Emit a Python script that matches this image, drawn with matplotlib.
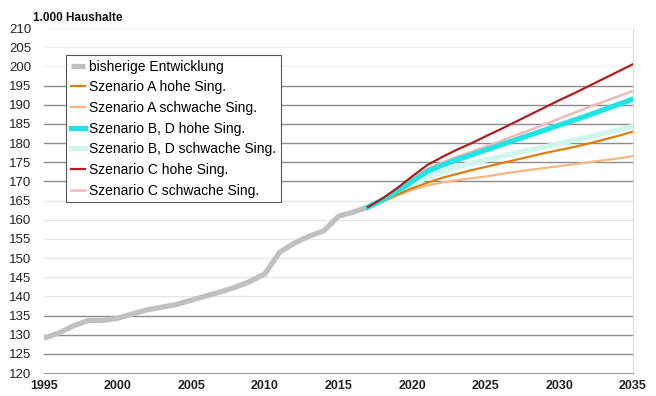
import matplotlib
matplotlib.use("Agg")
import matplotlib.pyplot as plt

plt.rcParams['font.family'] = ['Liberation Sans', 'DejaVu Sans']

# Bisherige Entwicklung (1.000 Haushalte)
hist_years = list(range(1995, 2018))
hist_values = [129.1, 130.4, 132.3, 133.7, 133.7, 134.3, 135.4, 136.5, 137.2, 137.9,
               139.0, 140.1, 141.2, 142.4, 143.9, 145.9, 151.5, 153.9, 155.7, 157.1,
               160.9, 162.0, 163.3]

# Vorausberechnung 2017-2035
proj_years = list(range(2017, 2036))
a_hohe = [163.3, 164.9, 166.6, 168.2, 169.6, 170.9, 171.9, 172.9, 173.8, 174.7,
          175.6, 176.5, 177.4, 178.2, 179.0, 179.9, 180.9, 181.9, 183.0]
a_schwach = [163.3, 164.7, 166.3, 167.8, 168.9, 169.7, 170.3, 170.8, 171.3, 171.9,
             172.5, 173.0, 173.5, 174.0, 174.5, 175.0, 175.5, 176.0, 176.6]
bd_hohe = [163.3, 165.2, 167.5, 170.0, 172.6, 174.2, 175.6, 176.9, 178.2, 179.5,
           180.8, 182.1, 183.4, 184.7, 186.0, 187.3, 188.7, 190.1, 191.5]
bd_schwach = [163.3, 165.1, 167.1, 169.2, 171.1, 172.5, 173.7, 174.7, 175.6, 176.5,
              177.4, 178.2, 179.0, 179.9, 180.8, 181.6, 182.5, 183.4, 184.4]
c_hohe = [163.3, 165.6, 168.3, 171.3, 174.2, 176.3, 178.2, 179.9, 181.8, 183.6,
          185.5, 187.4, 189.3, 191.2, 193.0, 194.9, 196.8, 198.7, 200.6]
c_schwach = [163.3, 165.4, 167.9, 170.6, 173.2, 174.9, 176.4, 177.7, 179.1, 180.5,
             182.0, 183.4, 184.9, 186.4, 187.9, 189.4, 190.8, 192.2, 193.6]

y_ticks = list(range(120, 215, 5))
x_ticks = list(range(1995, 2040, 5))

fig = plt.figure(figsize=(6.56, 3.96), dpi=100)
ax = fig.add_axes([0.067, 0.058, 0.898, 0.871])

# Gitterlinien in unterschiedlicher Stärke
for v in y_ticks[1:]:
    if 125 <= v <= 135 or 170 <= v <= 195:
        col = '#8c8c8c'
    elif v >= 200:
        col = '#f0f0f0'
    else:
        col = '#e6e6e6'
    ax.axhline(v, color=col, lw=1.0, zorder=1)

h_hist, = ax.plot(hist_years, hist_values, color='#c0c0c0', lw=3.8,
                  solid_capstyle='butt', zorder=3, label='bisherige Entwicklung')
h_bds, = ax.plot(proj_years, bd_schwach, color='#cff5ef', lw=3.8, zorder=3,
                 label='Szenario B, D schwache Sing.')
h_as, = ax.plot(proj_years, a_schwach, color='#f3b882', lw=1.6, zorder=4,
                label='Szenario A schwache Sing.')
h_ah, = ax.plot(proj_years, a_hohe, color='#e07d12', lw=1.6, zorder=4,
                label='Szenario A hohe Sing.')
h_cs, = ax.plot(proj_years, c_schwach, color='#f0b9b9', lw=1.8, zorder=4,
                label='Szenario C schwache Sing.')
h_bdh, = ax.plot(proj_years, bd_hohe, color='#22e3e3', lw=3.8, zorder=5,
                 label='Szenario B, D hohe Sing.')
h_ch, = ax.plot(proj_years, c_hohe, color='#b01e1e', lw=1.6, zorder=6,
                label='Szenario C hohe Sing.')

ax.set_xlim(1995, 2035)
ax.set_ylim(120, 210)
ax.set_yticks(y_ticks)
ax.set_xticks(x_ticks)
ax.tick_params(axis='both', length=0, colors='#222222')
ax.tick_params(axis='y', labelsize=9.5, pad=9)
ax.tick_params(axis='x', labelsize=9, pad=5)
for lab in ax.get_xticklabels():
    lab.set_fontweight('bold')

for side in ['left', 'top']:
    ax.spines[side].set_visible(False)
ax.spines['bottom'].set_color('#9a9a9a')
ax.spines['right'].set_color('#dddddd')

leg = ax.legend(handles=[h_hist, h_ah, h_as, h_bdh, h_bds, h_ch, h_cs],
                loc='upper left', bbox_to_anchor=(0.037, 0.923),
                prop={'size': 10}, handlelength=1.05, handletextpad=0.3,
                labelspacing=0.48, borderpad=0.35, borderaxespad=0.0,
                fancybox=False, framealpha=1.0, edgecolor='#555555')
leg.get_frame().set_linewidth(0.8)
leg.set_zorder(10)

fig.text(0.05, 0.955, '1.000 Haushalte', fontsize=8.5, fontweight='bold',
         ha='left', va='center', color='#111111')

fig.savefig('out.png', dpi=100)
